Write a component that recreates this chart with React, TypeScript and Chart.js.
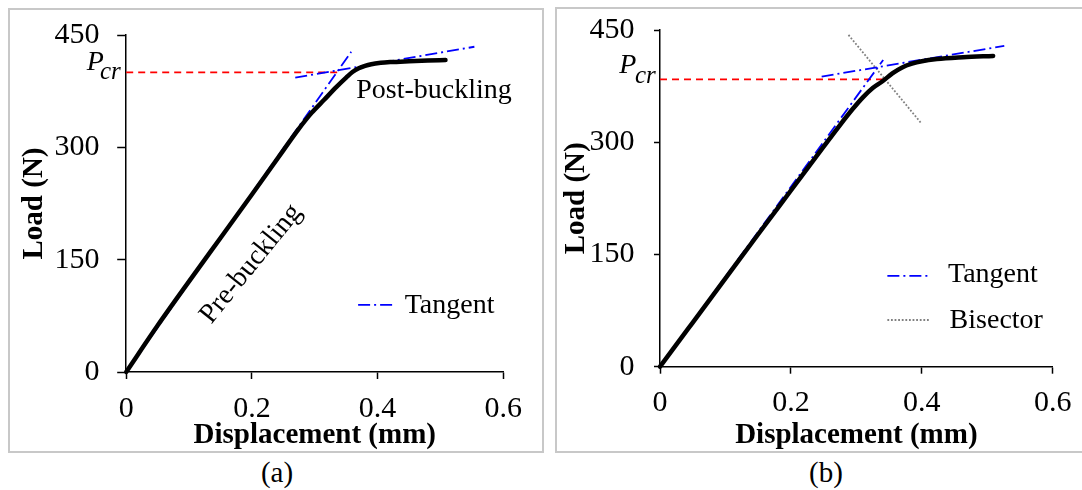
import React, { useEffect, useRef } from "react";
import { Chart, registerables } from "chart.js";

Chart.register(...registerables);

const SERIF = "'Liberation Serif', 'Times New Roman', Times, serif";

// ---------- panel (a) ----------
const dispA = [0, 0.05, 0.1, 0.15, 0.2, 0.25, 0.274, 0.295, 0.315, 0.335, 0.35, 0.36, 0.37, 0.38, 0.39, 0.405, 0.42, 0.45, 0.48, 0.508];
const loadA = [0, 62, 121, 179, 237, 296, 324, 346, 363.5, 381, 393, 400.5, 405.5, 408.8, 411, 412.8, 413.8, 415, 416, 416.6];
const tanA1X = [0, 0.358];
const tanA1Y = [0, 427.6];
const tanA2X = [0.269, 0.554];
const tanA2Y = [393, 434.3];
const pcrLoadA = 400;
const pcrDispA = 0.336;

// ---------- panel (b) ----------
const dispB = [0, 0.05, 0.1, 0.15, 0.2, 0.25, 0.275, 0.295, 0.31, 0.325, 0.34, 0.355, 0.37, 0.385, 0.4, 0.423, 0.463, 0.509];
const loadB = [0, 59, 118, 177, 235.5, 294, 323, 345, 360, 372.5, 381.5, 392, 400, 405, 408.3, 411.2, 413.6, 415.4];
const tanB1X = [0, 0.341];
const tanB1Y = [0, 410];
const tanB2X = [0.247, 0.526];
const tanB2Y = [387.7, 428.8];
const bisX = [0.288, 0.4];
const bisY = [443.4, 324.5];
const pcrLoadB = 384;
const pcrDispB = 0.346;

// ---------- axes ----------
const xTicks = [0, 0.2, 0.4, 0.6];
const xTickLabels = ["0", "0.2", "0.4", "0.6"];
const yTicks = [0, 150, 300, 450];
const yTickLabels = ["0", "150", "300", "450"];
const xTitle = "Displacement (mm)";
const yTitle = "Load (N)";

const pts = (xs: number[], ys: number[]) => xs.map((x, i) => ({ x, y: ys[i] }));

const BLUE = "#0000ff";
const RED = "#ff0000";
const GREY = "#808080";
const DASHDOT = [12, 4, 2, 4];
const DASH = [7, 5];
const DOT = [1.8, 1.8];

function lineDs(data: any[], color: string, width: number, dash: number[]) {
  return {
    data,
    showLine: true,
    borderColor: color,
    backgroundColor: color,
    borderWidth: width,
    borderDash: dash,
    pointRadius: 0,
    fill: false,
    tension: 0,
    clip: false as any,
  };
}

function curveDs(data: any[]) {
  return {
    data,
    showLine: true,
    borderColor: "#000",
    backgroundColor: "#000",
    borderWidth: 4.5,
    pointRadius: 0,
    fill: false,
    cubicInterpolationMode: "monotone",
    borderCapStyle: "round",
    borderJoinStyle: "round",
    clip: false as any,
  };
}

type Spec = {
  left: number;
  top: number;
  w: number;
  h: number;
  padTop: number;
  padRight: number;
  yW: number;
  xH: number;
  yTickLen: number;
  yTickPad: number;
  xTickPad: number;
  yTitlePad: number;
  datasets: any[];
  annot: (ctx: CanvasRenderingContext2D, X: (v: number) => number, Y: (v: number) => number, area: any) => void;
};

function legendItem(ctx: CanvasRenderingContext2D, X: any, Y: any, x1: number, x2: number, ly: number, color: string, width: number, dash: number[], label: string, tx: number, ty: number) {
  ctx.save();
  ctx.strokeStyle = color;
  ctx.lineWidth = width;
  ctx.setLineDash(dash);
  ctx.beginPath();
  ctx.moveTo(X(x1), Y(ly));
  ctx.lineTo(X(x2), Y(ly));
  ctx.stroke();
  ctx.restore();
  ctx.save();
  ctx.fillStyle = "#000";
  ctx.font = `28px ${SERIF}`;
  ctx.textAlign = "left";
  ctx.textBaseline = "alphabetic";
  ctx.fillText(label, X(tx), Y(ty));
  ctx.restore();
}

function pcrLabel(ctx: CanvasRenderingContext2D, area: any, yPix: number, pdx: number, pdy: number, cdx: number, cdy: number) {
  ctx.save();
  ctx.fillStyle = "#000";
  ctx.textAlign = "left";
  ctx.textBaseline = "alphabetic";
  ctx.font = `italic 28px ${SERIF}`;
  ctx.fillText("P", area.left + pdx, yPix + pdy);
  ctx.font = `italic 25px ${SERIF}`;
  ctx.fillText("cr", area.left + cdx, yPix + cdy);
  ctx.restore();
}

const specA: Spec = {
  left: 10,
  top: 10,
  w: 532,
  h: 441,
  padTop: 25,
  padRight: 38.7,
  yW: 116.2,
  xH: 79,
  yTickLen: 9,
  yTickPad: 17.7,
  xTickPad: 14.7,
  yTitlePad: 9.6,
  datasets: [
    curveDs(pts(dispA, loadA)),
    lineDs(pts(tanA1X, tanA1Y), BLUE, 1.8, DASHDOT),
    lineDs(pts(tanA2X, tanA2Y), BLUE, 1.8, DASHDOT),
    lineDs(pts([0, pcrDispA], [pcrLoadA, pcrLoadA]), RED, 1.8, DASH),
  ],
  annot: (ctx, X, Y, area) => {
    pcrLabel(ctx, area, Y(pcrLoadA), -39.5, -2.4, -26.2, 6.6);
    ctx.save();
    ctx.fillStyle = "#000";
    ctx.font = `28px ${SERIF}`;
    ctx.textAlign = "left";
    ctx.textBaseline = "alphabetic";
    ctx.fillText("Post-buckling", X(0.366), Y(365.4));
    ctx.translate(X(0.1986), Y(144.2));
    ctx.rotate((-51 * Math.PI) / 180);
    ctx.textAlign = "center";
    ctx.textBaseline = "middle";
    ctx.fillText("Pre-buckling", 0, 0);
    ctx.restore();
    legendItem(ctx, X, Y, 0.369, 0.429, 89.5, BLUE, 1.8, DASHDOT, "Tangent", 0.443, 78.8);
  },
};

const specB: Spec = {
  left: 557,
  top: 9,
  w: 525,
  h: 442,
  padTop: 21,
  padRight: 29.3,
  yW: 103,
  xH: 84.3,
  yTickLen: 6,
  yTickPad: 19.5,
  xTickPad: 14.3,
  yTitlePad: 5.3,
  datasets: [
    curveDs(pts(dispB, loadB)),
    lineDs(pts(tanB1X, tanB1Y), BLUE, 1.8, DASHDOT),
    lineDs(pts(tanB2X, tanB2Y), BLUE, 1.8, DASHDOT),
    lineDs(pts(bisX, bisY), GREY, 1.8, DOT),
    lineDs(pts([0, pcrDispB], [pcrLoadB, pcrLoadB]), RED, 1.8, DASH),
  ],
  annot: (ctx, X, Y, area) => {
    pcrLabel(ctx, area, Y(pcrLoadB), -40.7, -6.7, -25, 3.3);
    legendItem(ctx, X, Y, 0.3474, 0.4124, 121.3, BLUE, 1.8, DASHDOT, "Tangent", 0.44, 113.6);
    legendItem(ctx, X, Y, 0.3474, 0.4124, 62.4, GREY, 1.8, DOT, "Bisector", 0.4425, 51.3);
  },
};

function Panel({ spec }: { spec: Spec }) {
  const ref = useRef<HTMLCanvasElement>(null);
  useEffect(() => {
    const annotPlugin = {
      id: "annot",
      afterDatasetsDraw(chart: any) {
        const xs = chart.scales.x;
        const ys = chart.scales.y;
        spec.annot(
          chart.ctx,
          (v: number) => xs.getPixelForValue(v),
          (v: number) => ys.getPixelForValue(v),
          chart.chartArea
        );
      },
    };
    const chart = new Chart(ref.current as HTMLCanvasElement, {
      type: "scatter",
      data: { datasets: spec.datasets },
      options: {
        animation: false,
        responsive: false,
        maintainAspectRatio: false,
        devicePixelRatio: 1,
        events: [],
        layout: { padding: { left: 0, top: spec.padTop, right: spec.padRight, bottom: 0 } },
        plugins: { legend: { display: false }, tooltip: { enabled: false } },
        scales: {
          x: {
            type: "linear",
            min: 0,
            max: 0.6,
            afterBuildTicks: (s: any) => {
              s.ticks = xTicks.map((v) => ({ value: v }));
            },
            afterFit: (s: any) => {
              s.height = spec.xH;
              s.paddingLeft = 0;
              s.paddingRight = 0;
              s.paddingTop = 0;
              s.paddingBottom = 0;
            },
            ticks: {
              callback: (_v: any, i: number) => xTickLabels[i],
              font: { family: SERIF, size: 30, lineHeight: 1 },
              color: "#000",
              padding: spec.xTickPad,
              maxRotation: 0,
              minRotation: 0,
              autoSkip: false,
            },
            grid: { drawOnChartArea: false, drawTicks: true, tickLength: 7, tickColor: "#000", tickWidth: 1.5 },
            border: { display: true, color: "#000", width: 1.5 },
            title: {
              display: true,
              text: xTitle,
              color: "#000",
              font: { family: SERIF, size: 29, weight: "bold", lineHeight: 1 },
              padding: { top: 0, bottom: 0.5 },
            },
          },
          y: {
            type: "linear",
            min: 0,
            max: 450,
            afterBuildTicks: (s: any) => {
              s.ticks = yTicks.map((v) => ({ value: v }));
            },
            afterFit: (s: any) => {
              s.width = spec.yW;
              s.paddingLeft = 0;
              s.paddingRight = 0;
              s.paddingTop = 0;
              s.paddingBottom = 0;
            },
            ticks: {
              callback: (_v: any, i: number) => yTickLabels[i],
              font: { family: SERIF, size: 30, lineHeight: 1 },
              color: "#000",
              padding: spec.yTickPad,
              autoSkip: false,
            },
            grid: { drawOnChartArea: false, drawTicks: true, tickLength: spec.yTickLen, tickColor: "#000", tickWidth: 1.5 },
            border: { display: true, color: "#000", width: 1.5 },
            title: {
              display: true,
              text: yTitle,
              color: "#000",
              font: { family: SERIF, size: 29, weight: "bold", lineHeight: 1 },
              padding: { top: spec.yTitlePad, bottom: 0 },
            },
          },
        },
      } as any,
      plugins: [annotPlugin],
    });
    return () => chart.destroy();
  }, [spec]);
  return (
    <canvas
      ref={ref}
      width={spec.w}
      height={spec.h}
      style={{ position: "absolute", left: spec.left, top: spec.top, width: spec.w, height: spec.h }}
    />
  );
}

const captionStyle = (cx: number): React.CSSProperties => ({
  position: "absolute",
  left: cx - 100,
  width: 200,
  top: 457.7,
  textAlign: "center",
  fontFamily: SERIF,
  fontSize: 29,
  lineHeight: "29px",
  color: "#000",
});

export default function App() {
  return (
    <div>
      <div
        style={{
          position: "absolute",
          left: 8,
          top: 8,
          width: 536,
          height: 445,
          boxSizing: "border-box",
          border: "2px solid #c8c8c8",
        }}
      />
      <div
        style={{
          position: "absolute",
          left: 555,
          top: 7,
          width: 527,
          height: 446,
          boxSizing: "border-box",
          border: "2px solid #c8c8c8",
          borderRight: "none",
        }}
      />
      <Panel spec={specA} />
      <Panel spec={specB} />
      <div style={captionStyle(277)}>(a)</div>
      <div style={captionStyle(826)}>(b)</div>
    </div>
  );
}
